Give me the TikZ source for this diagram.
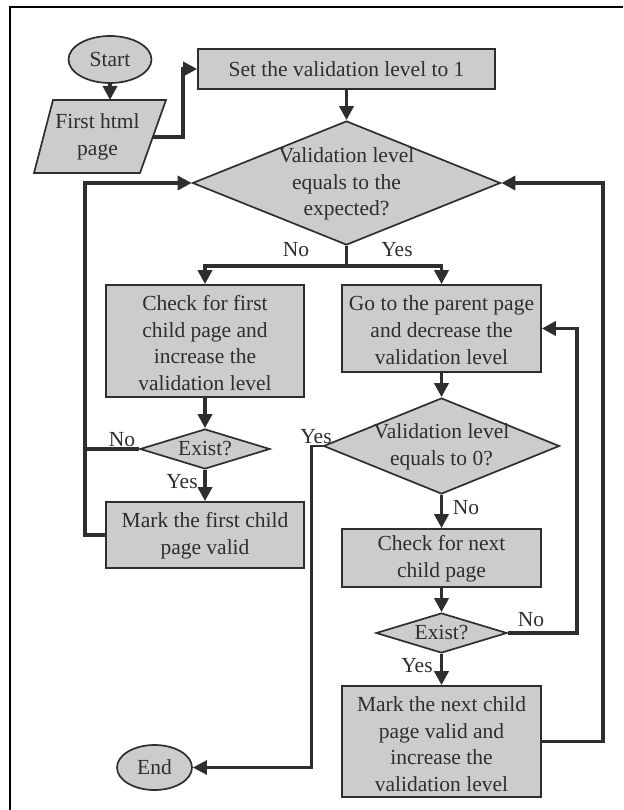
\documentclass[tikz,border=0pt]{standalone}
\usepackage{fontspec}
\setmainfont{Liberation Serif}
\usetikzlibrary{shapes.geometric,arrows.meta}
\definecolor{ink}{HTML}{2E2E2E}
\definecolor{boxfill}{HTML}{CCCCCC}
\begin{document}
\begin{tikzpicture}[x=1pt,y=-1pt,
  every node/.style={font=\fontsize{21.5}{26.7}\selectfont, text=ink},
  proc/.style={draw=ink, fill=boxfill, line width=1.7pt, rectangle, inner sep=0pt},
  term/.style={draw=ink, fill=boxfill, line width=1.7pt, ellipse, inner sep=0pt},
  decision/.style={draw=ink, fill=boxfill, line width=1.7pt, diamond, inner sep=0pt},
  txt/.style={align=center, inner sep=0pt},
  link/.style={draw=ink, line width=3.8pt, line join=miter},
  flow/.style={link, -{Triangle[length=14pt,width=14pt]}},
  thinflow/.style={flow, line width=2.6pt},
]
\useasboundingbox (0,0) rectangle (623,810);

% outer frame
\draw[black, line width=1.3pt] (10,810) -- (10,7) -- (623,7);

% start / input
\node[term, minimum width=83pt, minimum height=47pt] (start) at (110,59.5) {Start};
\draw[draw=ink, fill=boxfill, line width=1.7pt] (53,100) -- (166,100) -- (140,173) -- (34,173) -- cycle;
\node[txt] (first) at (97.5,137) {First html\\page};
\coordinate (firstN) at (110,100);
\coordinate (firstE) at (153,137);

% main column
\node[proc, minimum width=297pt, minimum height=40pt] (setlvl) at (346.5,69) {Set the validation level to 1};
\node[decision, minimum width=308pt, minimum height=124pt] (d1) at (346.5,183) {};
\node[txt] (d1t) at (346.5,184) {Validation level\\equals to the\\expected?};

% left branch
\node[proc, minimum width=198pt, minimum height=112pt] (chk1) at (205,341) {};
\node[txt] (chk1t) at (205,343) {Check for first\\child page and\\increase the\\validation level};
\node[decision, minimum width=130pt, minimum height=40pt] (ex1) at (205,449) {};
\node[txt] (ex1t) at (205,449) {Exist?};
\node[proc, minimum width=198pt, minimum height=66pt] (mk1) at (205,535) {};
\node[txt] (mk1t) at (205,536) {Mark the first child\\page valid};

% right branch
\node[proc, minimum width=199pt, minimum height=87pt] (go) at (441.5,328.5) {};
\node[txt] (got) at (441.5,330) {Go to the parent page\\and decrease the\\validation level};
\node[decision, minimum width=236pt, minimum height=96pt] (d2) at (441.5,446) {};
\node[txt] (d2t) at (441.5,447) {Validation level\\equals to 0?};
\node[proc, minimum width=199pt, minimum height=58pt] (chk2) at (441.5,558) {};
\node[txt] (chk2t) at (441.5,559) {Check for next\\child page};
\node[decision, minimum width=131pt, minimum height=40pt] (ex2) at (441.5,633) {};
\node[txt] (ex2t) at (441.5,633) {Exist?};
\node[proc, minimum width=199pt, minimum height=111pt] (mk2) at (441.5,741.5) {};
\node[txt] (mk2t) at (441.5,744) {Mark the next child\\page valid and\\increase the\\validation level};

\node[term, minimum width=75pt, minimum height=45pt] (end) at (154.5,767.5) {End};

% connectors
\draw[flow] (start.south) -- (start.south |- firstN);
\draw[flow] (firstE) -- ++(30,0) |- (setlvl.west);
\draw[flow] (setlvl.south) -- (d1.north);
\draw[flow] (d1.south) -- ++(0,20) -| (chk1.north);
\draw[flow] (d1.south) ++(0,20) -| (go.north);
\draw[flow] (chk1.south) -- (ex1.north);
\draw[flow] (ex1.south) -- (mk1.north);
\draw[flow] (mk1.west) -- ++(-20,0) |- (d1.west);
\draw[link] (ex1.west) -- ++(-54,0);
\draw[flow] (go.south) -- (d2.north);
\draw[flow] (d2.south) -- (chk2.north);
\draw[flow] (chk2.south) -- (ex2.north);
\draw[flow] (ex2.south) -- (mk2.north);
\draw[flow] (ex2.east) -- ++(69,0) |- (go.east);
\draw[flow] (mk2.east) -- ++(61,0) |- (d1.east);
\draw[thinflow] (d2.west) -- ++(-11,0) |- (end.east);

% branch labels
\node[txt] (l1) at (296,250) {No};
\node[txt] (l2) at (397,250) {Yes};
\node[txt] (l3) at (122,440) {No};
\node[txt] (l4) at (182,482) {Yes};
\node[txt] (l5) at (316,437) {Yes};
\node[txt] (l6) at (466,508) {No};
\node[txt] (l7) at (531,620) {No};
\node[txt] (l8) at (417,666) {Yes};
\end{tikzpicture}
\end{document}
